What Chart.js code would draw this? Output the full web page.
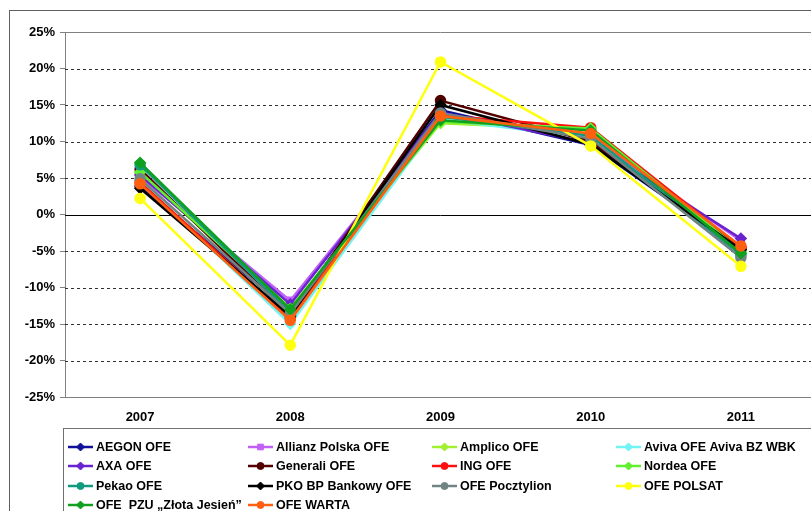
<!DOCTYPE html>
<html>
<head>
<meta charset="utf-8">
<script src="https://cdn.jsdelivr.net/npm/chart.js@4"></script>
<style>
  html, body { margin: 0; padding: 0; background: #fff; overflow: hidden; }
  #wrap { position: absolute; left: 0; top: 0; width: 830px; height: 511px; }
</style>
</head>
<body>
<div id="wrap"><canvas id="funds" width="830" height="511"></canvas></div>
<script>
// Annual returns of pension funds (OFE), in percent
const years = ['2007', '2008', '2009', '2010', '2011'];
const yTicks = [-25, -20, -15, -10, -5, 0, 5, 10, 15, 20, 25];

const aegon = [3.9, -13.3, 14.3, 9.5, -4.9];
const allianz = [5.2, -11.8, 13.8, 10.6, -3.6];
const amplico = [5.6, -12.8, 12.5, 11.6, -5.1];
const aviva = [4.6, -15.0, 13.0, 10.5, -5.6];
const axa = [5.4, -12.3, 14.0, 9.8, -3.3];
const generali = [6.2, -13.8, 15.6, 10.0, -4.6];
const ing = [4.4, -14.2, 13.6, 11.9, -4.5];
const nordea = [5.8, -12.9, 12.7, 11.8, -5.0];
const pekao = [6.8, -13.4, 13.4, 10.8, -5.5];
const pko = [3.6, -13.9, 15.0, 9.6, -4.8];
const pocztylion = [4.9, -13.6, 13.9, 10.4, -5.9];
const polsat = [2.2, -17.9, 20.9, 9.4, -7.1];
const pzu = [7.1, -13.0, 12.9, 11.5, -5.3];
const warta = [4.2, -14.5, 13.5, 11.1, -4.3];

const fundNames = ['AEGON OFE', 'Allianz Polska OFE', 'Amplico OFE', 'Aviva OFE Aviva BZ WBK',
    'AXA OFE', 'Generali OFE', 'ING OFE', 'Nordea OFE',
    'Pekao OFE', 'PKO BP Bankowy OFE', 'OFE Pocztylion', 'OFE POLSAT',
    'OFE  PZU \u201EZłota Jesień\u201D', 'OFE WARTA'];
const fundValues = [aegon, allianz, amplico, aviva, axa, generali, ing, nordea,
    pekao, pko, pocztylion, polsat, pzu, warta];
const fundColors = ['#10109a', '#c060f8', '#a0f030', '#70f4f4', '#6a22d0', '#520000', '#ff1010',
    '#60f030', '#109a80', '#000000', '#708484', '#ffff10', '#10a020', '#ff6010'];
const fundMarkers = ['rectRot', 'rect', 'rectRot', 'rectRot', 'rectRot', 'circle', 'circle',
    'rectRot', 'circle', 'rectRot', 'circle', 'circle', 'rectRot', 'circle'];

const FONT = '"Liberation Sans", Arial, sans-serif';

// outer frame, gridlines (dashed, solid zero line) behind the lines
const framePlugin = {
    id: 'frame',
    beforeDraw(chart) {
        const ctx = chart.ctx;
        ctx.save();
        ctx.fillStyle = '#fff';
        ctx.fillRect(0, 0, chart.width, chart.height);
        ctx.strokeStyle = '#606060';
        ctx.lineWidth = 1;
        ctx.strokeRect(9.5, 10.5, 900, 600);
        ctx.restore();
    },
    beforeDatasetsDraw(chart) {
        const ctx = chart.ctx;
        const area = chart.chartArea;
        const y = chart.scales.y;
        ctx.save();
        ctx.lineWidth = 1;
        yTicks.forEach(v => {
            const py = Math.round(y.getPixelForValue(v)) + 0.5;
            ctx.beginPath();
            if (v === 25 || v === -25) {
                ctx.setLineDash([]);
                ctx.strokeStyle = '#808080';
            } else if (v === 0) {
                ctx.setLineDash([]);
                ctx.strokeStyle = '#000';
            } else {
                ctx.setLineDash([3, 3]);
                ctx.strokeStyle = '#303030';
            }
            ctx.moveTo(area.left, py);
            ctx.lineTo(area.right, py);
            ctx.stroke();
        });
        ctx.restore();
    }
};

// legend box with four columns under the plot
const legendPlugin = {
    id: 'gridLegend',
    afterDraw(chart) {
        const ctx = chart.ctx;
        const colX = [68, 248, 432, 616];
        const rowY = [447, 466, 486, 505];
        ctx.save();
        ctx.strokeStyle = '#707070';
        ctx.lineWidth = 1;
        ctx.setLineDash([]);
        ctx.strokeRect(63.5, 428.5, 800, 120);
        ctx.font = 'bold 12.5px ' + FONT;
        ctx.textBaseline = 'middle';
        chart.data.datasets.forEach((ds, i) => {
            const x = colX[i % 4];
            const yy = rowY[Math.floor(i / 4)];
            ctx.strokeStyle = ds.borderColor;
            ctx.fillStyle = ds.borderColor;
            ctx.lineWidth = 2.5;
            ctx.beginPath();
            ctx.moveTo(x, yy);
            ctx.lineTo(x + 25, yy);
            ctx.stroke();
            ctx.lineWidth = 1;
            Chart.helpers.drawPoint(ctx, {
                pointStyle: ds.pointStyle,
                radius: ds.pointStyle === 'circle' ? 3.5 : 4,
                borderWidth: 1,
                rotation: 0
            }, x + 12.5, yy);
            ctx.fillStyle = '#000';
            ctx.fillText(ds.label, x + 28, yy + 1);
        });
        ctx.restore();
    }
};

const datasets = fundNames.map((name, i) => ({
    label: name,
    data: fundValues[i],
    borderColor: fundColors[i],
    backgroundColor: fundColors[i],
    pointBackgroundColor: fundColors[i],
    pointBorderColor: fundColors[i],
    pointStyle: fundMarkers[i],
    pointRadius: fundMarkers[i] === 'rect' ? 4 : 4.5,
    borderWidth: 2.5,
    tension: 0,
    order: -i   // later funds drawn on top
}));

new Chart(document.getElementById('funds').getContext('2d'), {
    type: 'line',
    data: { labels: years, datasets: datasets },
    options: {
        responsive: false,
        animation: false,
        layout: { padding: { left: 0, top: 32, right: 14, bottom: 84 } },
        plugins: {
            legend: { display: false },
            tooltip: { enabled: false }
        },
        scales: {
            x: {
                offset: true,
                grid: { display: false },
                border: { color: '#808080', width: 1 },
                ticks: {
                    color: '#000',
                    padding: 5,
                    font: { family: FONT, size: 13, weight: 'bold' }
                },
                afterFit(scale) { scale.height = 30; }
            },
            y: {
                min: -25,
                max: 25,
                grid: {
                    color: 'transparent',
                    drawOnChartArea: false,
                    tickColor: '#808080',
                    tickLength: 5
                },
                border: { color: '#808080', width: 1 },
                ticks: {
                    stepSize: 5,
                    color: '#000',
                    padding: 5,
                    font: { family: FONT, size: 13, weight: 'bold' },
                    callback: v => v + '%'
                },
                afterFit(scale) { scale.width = 65; }
            }
        }
    },
    plugins: [framePlugin, legendPlugin]
});
</script>
</body>
</html>
